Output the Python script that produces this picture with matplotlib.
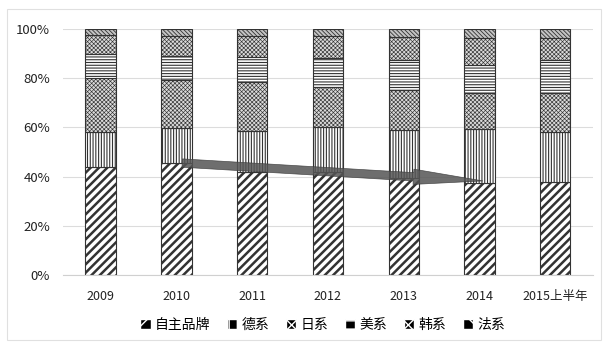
import matplotlib
matplotlib.use("Agg")
import matplotlib.pyplot as plt
from matplotlib.patches import Patch, FancyArrowPatch, Rectangle
import numpy as np

plt.rcParams['font.family'] = ['Noto Sans CJK SC', 'DejaVu Sans']

years = ['2009', '2010', '2011', '2012', '2013', '2014', '2015上半年']
series_names = ['自主品牌', '德系', '日系', '美系', '韩系', '法系']
zizhu = [44.0, 45.4, 42.0, 41.8, 39.3, 37.3, 37.9]
dexi = [14.2, 14.4, 16.5, 18.5, 19.6, 21.9, 20.1]
rixi = [22.0, 19.5, 20.1, 16.3, 16.3, 14.7, 16.1]
meixi = [9.7, 9.8, 10.1, 11.5, 12.2, 11.7, 13.3]
hanxi = [7.8, 8.2, 8.6, 9.2, 9.6, 10.6, 8.8]
faxi = [2.4, 2.7, 2.7, 2.7, 3.0, 3.8, 3.8]
series = [zizhu, dexi, rixi, meixi, hanxi, faxi]

# arrow (trend of 自主品牌 share)
arrow_start = (1.04, 45.6)
arrow_end = (5.08, 38.2)

styles = [
    dict(facecolor='white', hatch='////', hatch_color='black', lw=1.8),
    dict(facecolor='white', hatch='||||||', hatch_color='#222222', lw=0.8),
    dict(facecolor='#dadada', hatch='xxxxxxxx', hatch_color='#858585', lw=0.45),
    dict(facecolor='white', hatch='------', hatch_color='#333333', lw=0.8),
    dict(facecolor='#dadada', hatch='xxxxxxxx', hatch_color='#7c7c7c', lw=0.45),
    dict(facecolor='#c4c4c4', hatch='\\\\\\\\\\\\\\\\', hatch_color='#444444', lw=0.6),
]

fig = plt.figure(figsize=(6.09, 3.47), dpi=100)
ax = fig.add_axes([0.103, 0.2075, 0.871, 0.7085])

x = np.arange(len(years))
bottom = np.zeros(len(years))
tot = np.array([sum(s[i] for s in series) for i in range(len(years))])
for vals, st in zip(series, styles):
    frac = np.array(vals) / tot * 100
    plt.rcParams['hatch.linewidth'] = st['lw']
    plt.rcParams['hatch.color'] = st['hatch_color']
    bars = ax.bar(x, frac, 0.4, bottom=bottom, facecolor=st['facecolor'],
                  edgecolor='#333333', linewidth=0.8, hatch=st['hatch'], zorder=2)
    for b in bars:
        try:
            b.set_hatch_linewidth(st['lw'])
        except Exception:
            pass
        try:
            b.set_hatchcolor(st['hatch_color'])
        except Exception:
            pass
    bottom += frac

arr = FancyArrowPatch(arrow_start, arrow_end,
                      arrowstyle='simple,tail_width=0.6,head_width=1.1,head_length=5.0',
                      mutation_scale=10, facecolor='#555555', edgecolor='#3a3a3a',
                      linewidth=0.5, alpha=0.85, zorder=3)
ax.add_patch(arr)

ax.set_ylim(0, 100)
ax.set_xlim(-0.5, len(years) - 0.5)
ax.set_yticks(np.arange(0, 101, 20))
ax.set_yticklabels([f'{v}%' for v in range(0, 101, 20)], fontsize=9.5, color='#222222')
ax.set_xticks(x)
ax.set_xticklabels(years, fontsize=9, color='#222222')
ax.tick_params(axis='y', length=0, pad=9)
ax.tick_params(axis='x', length=0, pad=11)
ax.grid(axis='y', color='#dcdcdc', linewidth=0.8, zorder=0)
ax.set_axisbelow(True)
for s in ['top', 'right', 'left']:
    ax.spines[s].set_visible(False)
ax.spines['bottom'].set_color('#d0d0d0')

handles = []
for name, st in zip(series_names, styles):
    h = Patch(facecolor='black', edgecolor='white', hatch=st['hatch'][:2], label=name)
    handles.append(h)
leg = fig.legend(handles=handles, loc='center', bbox_to_anchor=(0.53, 0.063), ncol=6,
                 frameon=False, fontsize=10, handlelength=0.75, handleheight=0.75,
                 handletextpad=0.3, columnspacing=1.2)
for h in leg.legend_handles:
    try:
        h.set_hatch_linewidth(1.0)
        h.set_hatchcolor('white')
    except Exception:
        pass

fig.patches.append(Rectangle((0.012, 0.02), 0.975, 0.955, transform=fig.transFigure,
                             fill=False, edgecolor='#e0e0e0', linewidth=0.8))

fig.savefig('out.png', dpi=100)
